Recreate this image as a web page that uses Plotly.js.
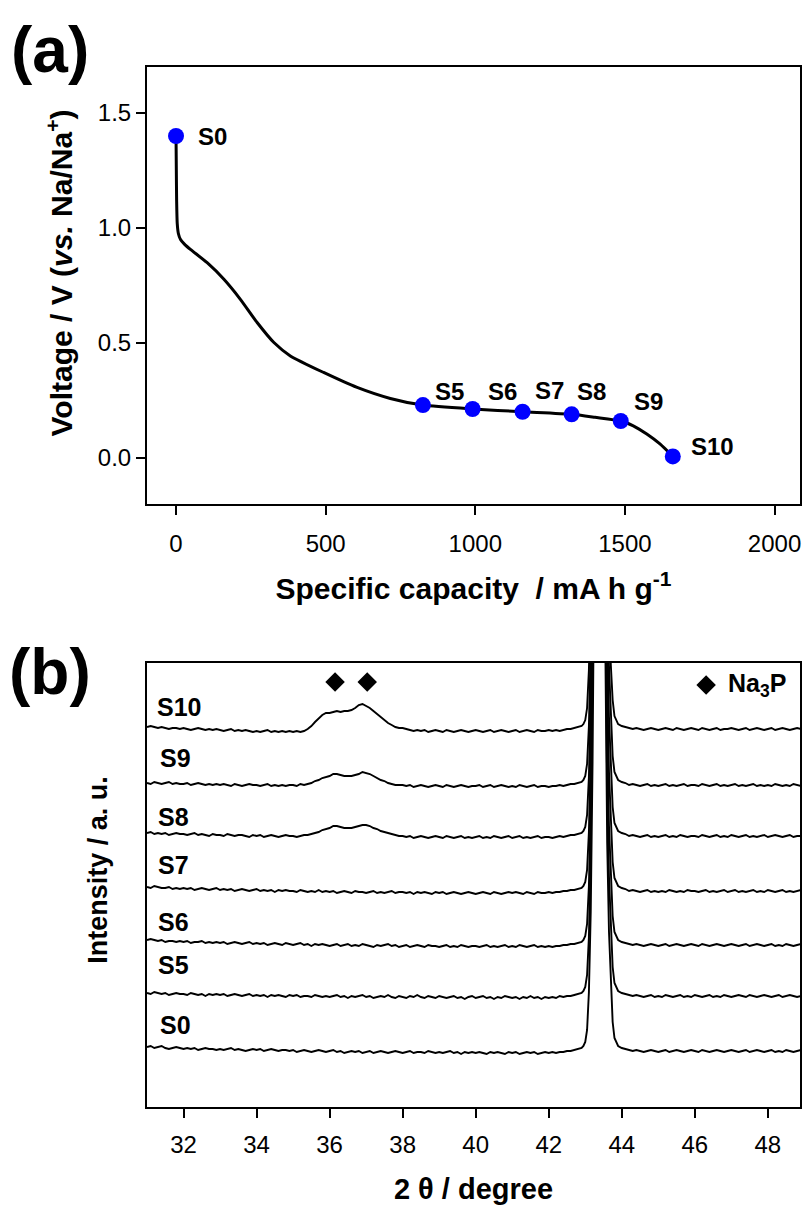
<!DOCTYPE html>
<html>
<head>
<meta charset="utf-8">
<script src="https://cdn.plot.ly/plotly-3.0.1.min.js"></script>
<style>
html,body{margin:0;padding:0;background:#fff;}
#chart{width:806px;height:1207px;}
</style>
</head>
<body>
<div id="chart"></div>
<script>
// ---------- Panel (a): discharge curve ----------
const capacity = [0, 1, 2, 4, 8, 15, 28, 48, 104, 160, 215, 271, 327, 382, 493, 605, 716, 825, 991, 1158, 1322, 1400, 1486, 1528, 1573, 1617, 1660];
const voltage  = [1.40, 1.25, 1.12, 1.02, 0.975, 0.95, 0.93, 0.907, 0.849, 0.777, 0.69, 0.589, 0.502, 0.444, 0.372, 0.307, 0.259, 0.230, 0.213, 0.201, 0.190, 0.177, 0.161, 0.140, 0.104, 0.061, 0.007];
const sampleNames = ['S0', 'S5', 'S6', 'S7', 'S8', 'S9', 'S10'];
const sampleCap   = [0, 825, 991, 1158, 1322, 1486, 1660];
const sampleV     = [1.40, 0.230, 0.213, 0.201, 0.190, 0.161, 0.007];
const capTicks = [0, 500, 1000, 1500, 2000];
const voltTicks = [0, 0.5, 1.0, 1.5];

// ---------- Panel (b): XRD patterns ----------
const twoTheta = [
31.0,31.1,31.2,31.3,31.4,31.5,31.6,31.7,31.8,31.9,
32.0,32.1,32.2,32.3,32.4,32.5,32.6,32.7,32.8,32.9,
33.0,33.1,33.2,33.3,33.4,33.5,33.6,33.7,33.8,33.9,
34.0,34.1,34.2,34.3,34.4,34.5,34.6,34.7,34.8,34.9,
35.0,35.1,35.2,35.3,35.4,35.5,35.6,35.7,35.8,35.9,
36.0,36.1,36.2,36.3,36.4,36.5,36.6,36.7,36.8,36.9,
37.0,37.1,37.2,37.3,37.4,37.5,37.6,37.7,37.8,37.9,
38.0,38.1,38.2,38.3,38.4,38.5,38.6,38.7,38.8,38.9,
39.0,39.1,39.2,39.3,39.4,39.5,39.6,39.7,39.8,39.9,
40.0,40.1,40.2,40.3,40.4,40.5,40.6,40.7,40.8,40.9,
41.0,41.1,41.2,41.3,41.4,41.5,41.6,41.7,41.8,41.9,
42.0,42.1,42.2,42.3,42.4,42.5,42.6,42.7,42.8,
42.85,42.9,42.95,43.0,43.05,43.1,43.15,43.2,43.25,43.3,43.35,43.4,43.45,43.5,43.55,43.6,43.65,43.7,43.75,43.8,43.85,
43.9,
44.0,44.1,44.2,44.3,44.4,44.5,44.6,44.7,44.8,44.9,
45.0,45.1,45.2,45.3,45.4,45.5,45.6,45.7,45.8,45.9,
46.0,46.1,46.2,46.3,46.4,46.5,46.6,46.7,46.8,46.9,
47.0,47.1,47.2,47.3,47.4,47.5,47.6,47.7,47.8,47.9,
48.0,48.1,48.2,48.3,48.4,48.5,48.6,48.7,48.8,48.9,
49.0];

const xrdNames = ['S0', 'S5', 'S6', 'S7', 'S8', 'S9', 'S10'];
const xrdOffsets = [60, 114, 167, 220, 274, 324, 380];

const intS0 = [
0,1,-1,0,1,-1,-2,-1,0,-1,
-2,-1,-2,-1,-3,-2,-1,-2,-2,-3,
-2,-3,-2,-1,-3,-2,-3,-4,-3,-2,
-3,-2,-4,-3,-2,-3,-4,-3,-3,-4,
-3,-5,-4,-3,-4,-5,-4,-3,-4,-5,
-4,-3,-5,-4,-6,-5,-4,-5,-4,-6,
-5,-4,-6,-5,-4,-5,-6,-5,-4,-5,
-6,-5,-4,-6,-5,-5,-6,-4,-5,-6,
-5,-6,-5,-4,-6,-5,-7,-5,-6,-5,
-6,-5,-6,-7,-5,-6,-5,-6,-7,-5,
-6,-5,-7,-6,-5,-6,-5,-7,-6,-5,
-6,-5,-6,-5,-5,-4,-4,-3,-2,
-2,-1,1,5,17,55,135,285,515,895,1295,1295,945,595,375,205,115,60,25,9,4,
1,
-1,-2,-3,-4,-3,-4,-5,-4,-3,-4,
-5,-4,-3,-5,-4,-3,-4,-5,-4,-3,
-4,-5,-3,-4,-5,-4,-3,-4,-5,-4,
-3,-4,-5,-4,-3,-5,-4,-3,-4,-5,
-4,-3,-5,-4,-5,-3,-4,-5,-4,-3,
-4];
const intS5 = [
0,-1,1,0,-1,0,-2,-1,0,-1,
-1,-2,0,-1,-2,-1,-3,-1,-2,-1,
-2,-1,-3,-2,-1,-2,-3,-2,-1,-3,
-2,-3,-2,-4,-2,-3,-2,-3,-4,-2,
-3,-2,-4,-3,-3,-4,-2,-3,-4,-3,
-4,-3,-2,-4,-3,-5,-3,-4,-3,-2,
-4,-3,-5,-4,-3,-4,-2,-4,-5,-3,
-4,-5,-3,-4,-2,-4,-5,-3,-4,-5,
-3,-4,-5,-4,-3,-5,-4,-6,-4,-3,
-5,-4,-3,-5,-4,-6,-4,-5,-3,-4,
-5,-4,-6,-4,-5,-3,-5,-4,-6,-4,
-5,-4,-5,-3,-4,-3,-3,-2,-1,
-1,0,2,6,18,56,136,286,516,896,1296,1296,946,596,376,206,116,61,26,10,5,
2,
0,-1,-2,-3,-2,-3,-4,-3,-2,-4,
-3,-4,-2,-3,-4,-3,-2,-4,-3,-4,
-2,-3,-4,-3,-2,-4,-3,-4,-2,-3,
-4,-3,-2,-3,-4,-2,-3,-4,-3,-2,
-3,-4,-3,-2,-4,-3,-2,-3,-4,-3,
-3];
const intS6 = [
0,1,0,-1,0,-2,-1,-1,-2,-1,
-2,-1,-3,-2,-2,-1,-3,-2,-3,-2,
-3,-2,-4,-3,-2,-3,-4,-3,-2,-4,
-3,-4,-3,-5,-4,-3,-4,-5,-3,-4,
-5,-4,-3,-5,-4,-6,-4,-5,-4,-5,
-6,-5,-4,-6,-5,-4,-6,-5,-6,-4,
-5,-6,-7,-5,-6,-5,-4,-6,-5,-7,
-6,-5,-7,-6,-5,-6,-7,-5,-6,-6,
-7,-6,-5,-7,-6,-7,-5,-6,-7,-6,
-6,-7,-6,-5,-7,-6,-7,-6,-5,-7,
-6,-7,-5,-6,-7,-6,-5,-7,-6,-7,
-6,-7,-6,-6,-5,-5,-4,-4,-3,
-3,-2,0,4,16,54,134,284,514,894,1294,1294,944,594,374,204,114,59,24,8,3,
0,
-2,-3,-4,-5,-4,-5,-6,-5,-4,-5,
-6,-5,-4,-6,-5,-4,-5,-6,-5,-4,
-5,-6,-4,-5,-6,-5,-4,-5,-6,-5,
-4,-5,-6,-5,-4,-6,-5,-4,-5,-6,
-5,-4,-6,-5,-6,-4,-5,-6,-5,-4,
-5];
const intS7 = [
0,-1,1,0,-1,-1,0,-2,-1,-2,
-1,-2,-1,-3,-2,-1,-2,-3,-2,-1,
-3,-2,-3,-2,-4,-3,-2,-3,-4,-3,
-2,-4,-3,-4,-3,-5,-3,-4,-3,-4,
-4,-5,-3,-4,-5,-4,-5,-3,-5,-4,
-5,-4,-6,-5,-4,-5,-6,-4,-5,-5,
-6,-5,-4,-6,-5,-6,-5,-4,-6,-5,
-5,-6,-5,-7,-5,-6,-5,-6,-7,-5,
-6,-5,-7,-6,-5,-6,-7,-6,-5,-6,
-7,-6,-5,-6,-7,-5,-6,-7,-6,-5,
-6,-5,-6,-7,-5,-6,-7,-5,-6,-6,
-5,-6,-5,-5,-4,-4,-3,-3,-2,
-2,-1,1,5,17,55,135,285,515,895,1295,1295,945,595,375,205,115,60,25,9,4,
1,
-1,-2,-4,-3,-4,-5,-4,-3,-5,-4,
-5,-4,-5,-3,-4,-5,-4,-5,-3,-4,
-4,-5,-4,-3,-5,-4,-5,-4,-3,-5,
-4,-3,-5,-4,-5,-4,-3,-5,-4,-5,
-3,-4,-5,-4,-3,-5,-4,-5,-4,-3,
-4];
const intS8 = [
0,1,-1,0,-1,0,-2,-1,0,-1,
-1,-2,-1,0,-2,-1,-2,-3,-1,-2,
-2,-3,-1,-2,-3,-2,-2,-3,-4,-2,
-3,-2,-4,-3,-2,-3,-4,-3,-2,-3,
-3,-4,-3,-2,-2,-1,0,1,3,4,
5,7,7,6,5,5,5,6,7,8,
8,7,5,4,2,1,0,-1,-2,-3,
-3,-4,-3,-5,-4,-3,-4,-5,-4,-3,
-4,-5,-3,-4,-5,-4,-3,-5,-4,-5,
-4,-3,-5,-4,-5,-3,-4,-5,-4,-3,
-5,-4,-3,-5,-4,-5,-4,-3,-5,-4,
-4,-5,-4,-3,-4,-3,-2,-2,-1,
-1,0,2,6,18,56,136,286,516,896,1296,1296,946,596,376,206,116,61,26,10,5,
2,
0,-1,-3,-2,-3,-4,-3,-2,-4,-3,
-4,-3,-2,-4,-3,-4,-2,-3,-4,-3,
-3,-4,-2,-3,-4,-3,-2,-4,-3,-4,
-2,-3,-4,-3,-2,-4,-3,-4,-3,-2,
-4,-3,-2,-3,-4,-3,-2,-4,-3,-3,
-3];
const intS9 = [
0,-1,1,0,-1,0,1,-1,0,-1,
-1,0,-2,-1,0,-1,-2,-1,-2,-1,
-2,-1,-2,-3,-1,-2,-3,-2,-1,-2,
-2,-3,-2,-1,-3,-2,-3,-2,-3,-2,
-2,-3,-1,-2,-1,0,2,3,5,6,
7,9,9,8,7,7,7,8,9,11,
10,9,7,5,3,2,0,-1,-2,-2,
-2,-3,-2,-4,-3,-2,-3,-4,-3,-2,
-3,-4,-2,-3,-4,-3,-2,-3,-4,-3,
-3,-2,-4,-3,-2,-4,-3,-2,-3,-4,
-3,-4,-2,-3,-4,-3,-2,-4,-3,-3,
-4,-3,-3,-2,-3,-2,-1,-1,0,
0,1,3,7,19,57,137,287,517,897,1297,1297,947,597,377,207,117,62,27,11,6,
3,
1,0,-2,-1,-2,-3,-2,-1,-3,-2,
-3,-2,-1,-3,-2,-3,-2,-1,-3,-2,
-2,-3,-1,-2,-3,-2,-1,-3,-2,-3,
-2,-1,-3,-2,-3,-2,-1,-3,-2,-3,
-2,-3,-1,-2,-3,-2,-3,-1,-2,-3,
-2];
const intS10 = [
0,1,0,-1,0,-1,-2,-1,-1,-2,
-1,-2,-3,-2,-1,-2,-3,-2,-3,-2,
-3,-4,-3,-2,-4,-3,-4,-3,-4,-5,
-4,-5,-4,-3,-5,-4,-5,-4,-5,-4,
-5,-4,-5,-4,-2,1,5,9,12,14,
14,15,16,15,16,16,17,19,22,23,
21,19,16,13,10,7,4,2,0,-1,
-1,-2,-3,-4,-3,-4,-3,-5,-4,-3,
-4,-5,-3,-4,-5,-4,-3,-4,-5,-4,
-3,-4,-5,-4,-3,-5,-4,-3,-4,-5,
-4,-3,-5,-4,-3,-4,-5,-3,-4,-4,
-3,-4,-3,-4,-3,-2,-2,-1,0,
0,1,3,7,19,57,137,287,517,897,1297,1297,947,597,377,207,117,62,27,11,6,
3,
1,0,-1,-2,-1,-2,-3,-2,-1,-2,
-3,-2,-1,-2,-3,-1,-2,-3,-2,-1,
-2,-3,-1,-2,-3,-2,-1,-3,-2,-2,
-1,-2,-3,-2,-1,-3,-2,-1,-2,-3,
-2,-1,-3,-2,-1,-2,-3,-2,-1,-2,
-2];
const xrdIntensities = [intS0, intS5, intS6, intS7, intS8, intS9, intS10];
const na3pPeaks = [36.15, 37.03];
const twoThetaTicks = [32, 34, 36, 38, 40, 42, 44, 46, 48];

// ---------- Build traces ----------
const FONT = 'Liberation Sans, Arial, sans-serif';
const traces = [];
traces.push({
  x: capacity, y: voltage, xaxis: 'x', yaxis: 'y', mode: 'lines',
  line: {color: '#000', width: 3, shape: 'spline', smoothing: 0.6},
  hoverinfo: 'skip', showlegend: false
});
traces.push({
  x: sampleCap, y: sampleV, xaxis: 'x', yaxis: 'y', mode: 'markers',
  marker: {color: '#0000FF', size: 16},
  showlegend: false, cliponaxis: false, hoverinfo: 'skip'
});
xrdIntensities.forEach((arr, i) => {
  traces.push({
    x: twoTheta, y: arr.map(v => v + xrdOffsets[i]),
    xaxis: 'x2', yaxis: 'y2', mode: 'lines', name: xrdNames[i],
    line: {color: '#000', width: 1.9}, showlegend: false, hoverinfo: 'skip'
  });
});
traces.push({
  x: na3pPeaks, y: na3pPeaks.map(() => 425), xaxis: 'x2', yaxis: 'y2', mode: 'markers',
  marker: {symbol: 'diamond', color: '#000', size: 15}, showlegend: false, hoverinfo: 'skip'
});
traces.push({
  x: [46.31], y: [422], xaxis: 'x2', yaxis: 'y2', mode: 'markers',
  marker: {symbol: 'diamond', color: '#000', size: 15}, showlegend: false, hoverinfo: 'skip'
});

// ---------- Annotations ----------
const annotations = [];
const topShift = [[20, 0], [10, 14], [13, 18], [10, 21], [3, 23], [11, 19], [16, 10]];
sampleNames.forEach((n, i) => {
  annotations.push({
    x: sampleCap[i], y: sampleV[i], xref: 'x', yref: 'y', text: '<b>' + n + '</b>',
    showarrow: false, xanchor: 'left', yanchor: 'middle',
    xshift: topShift[i][0], yshift: topShift[i][1],
    font: {family: FONT, size: 24, color: '#000'}
  });
});
const botShift = [22, 28, 18, 22, 16, 25, 20];
const botX = [31.31, 31.25, 31.25, 31.25, 31.25, 31.31, 31.22];
xrdNames.forEach((n, i) => {
  annotations.push({
    x: botX[i], y: xrdOffsets[i], xref: 'x2', yref: 'y2', text: '<b>' + n + '</b>',
    showarrow: false, xanchor: 'left', yanchor: 'middle', yshift: botShift[i],
    font: {family: FONT, size: 25, color: '#000'}
  });
});
annotations.push({
  x: 46.31, y: 422, xref: 'x2', yref: 'y2', text: '<b>Na<sub>3</sub>P</b>',
  showarrow: false, xanchor: 'left', yanchor: 'middle', xshift: 20,
  font: {family: FONT, size: 25, color: '#000'}
});
annotations.push({
  x: -0.1485, y: 1.0163, xref: 'paper', yref: 'paper', text: '<b>(a)</b>',
  showarrow: false, xanchor: 'center', yanchor: 'middle',
  font: {family: FONT, size: 64, color: '#000'}
});
annotations.push({
  x: -0.1485, y: 0.4183, xref: 'paper', yref: 'paper', text: '<b>(b)</b>',
  showarrow: false, xanchor: 'center', yanchor: 'middle',
  font: {family: FONT, size: 64, color: '#000'}
});

const axisCommon = {
  showline: true, linecolor: '#000', linewidth: 2, mirror: true,
  showgrid: false, zeroline: false, ticks: 'outside', ticklen: 9, tickwidth: 2,
  tickcolor: '#000', tickfont: {family: FONT, size: 24, color: '#000'}
};

const layout = {
  width: 806, height: 1207,
  margin: {l: 147, r: 6, t: 67, b: 100},
  paper_bgcolor: '#fff', plot_bgcolor: '#fff',
  showlegend: false,
  xaxis: Object.assign({}, axisCommon, {
    anchor: 'y', domain: [0, 1], range: [-97, 2085], tickvals: capTicks,
    ticklabelstandoff: 8,
    title: {text: '<b>Specific capacity  / mA h g<sup>-1</sup></b>', standoff: 22,
            font: {family: FONT, size: 30, color: '#000'}}
  }),
  yaxis: Object.assign({}, axisCommon, {
    anchor: 'x', domain: [0.5798, 1], range: [-0.2, 1.7], tickvals: voltTicks, tickformat: '.1f',
    title: {text: '<b>&nbsp;&nbsp;&nbsp;Voltage / V (<i>vs.</i> Na/Na<sup>+</sup>)</b>', standoff: 16,
            font: {family: FONT, size: 30, color: '#000'}}
  }),
  xaxis2: Object.assign({}, axisCommon, {
    anchor: 'y2', domain: [0, 1], range: [31.0, 48.88], tickvals: twoThetaTicks,
    ticklabelstandoff: 6,
    title: {text: '<b>2 θ / degree</b>', standoff: 22,
            font: {family: FONT, size: 29, color: '#000'}}
  }),
  yaxis2: Object.assign({}, axisCommon, {
    anchor: 'x2', domain: [0, 0.4269], range: [0, 444], ticks: '', showticklabels: false,
    title: {text: '<b>&nbsp;&nbsp;&nbsp;&nbsp;Intensity / a. u.</b>', standoff: 30,
            font: {family: FONT, size: 27, color: '#000'}}
  }),
  annotations: annotations
};

Plotly.newPlot('chart', traces, layout, {staticPlot: true, displayModeBar: false});
</script>
</body>
</html>
